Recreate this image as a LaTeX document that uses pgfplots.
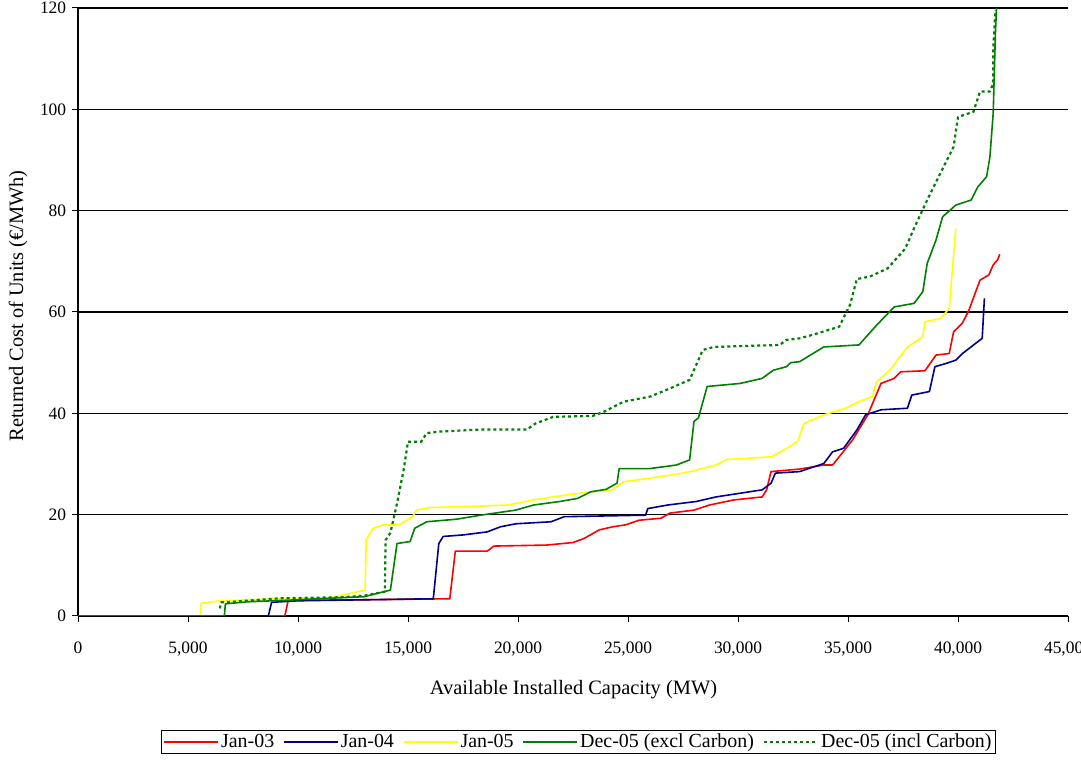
\documentclass[border=0pt]{standalone}
\usepackage{fontspec}
\setmainfont{Liberation Serif}
\usepackage{pgfplots}
\pgfplotsset{compat=1.18}
\definecolor{cred}{RGB}{255,0,0}
\definecolor{cblue}{RGB}{0,0,140}
\definecolor{cyellow}{RGB}{255,255,0}
\definecolor{cgreen}{RGB}{0,128,0}
\begin{document}
\fontsize{17}{20}\selectfont
\begin{tikzpicture}
\path[use as bounding box] (0bp,0bp) rectangle (1081bp,761bp);
\begin{axis}[
  at={(78bp,145bp)}, anchor=south west,
  scale only axis, width=990bp, height=608bp,
  xmin=0, xmax=45000, ymin=0, ymax=120,
  xtick={0,5000,...,45000}, ytick={0,20,...,120},
  scaled x ticks=false,
  /pgf/number format/.cd, 1000 sep={,}, assume math mode=true, /pgfplots/.cd,
  axis x line=bottom, axis y line=left,
  axis line style={-, black, line width=1.2bp},
  tick align=outside, major tick length=6bp,
  tick style={black, line width=1bp},
  ymajorgrids, grid style={black, line width=1.2bp},
  ticklabel style={font=\fontsize{17.5}{20}\selectfont},
  xticklabel style={yshift=-14bp},
  xlabel={Available Installed Capacity (MW)},
  ylabel={Returned Cost of Units (€/MWh)},
  xlabel style={at={(axis description cs:0.5005,-0.1217)}, anchor=center, font=\fontsize{20.5}{24}\selectfont},
  ylabel style={at={(axis description cs:-0.0606,0.51)}, anchor=center, font=\fontsize{20.5}{24}\selectfont},
  legend columns=5,
  legend style={at={(axis description cs:0.5056,-0.207)}, anchor=center, draw=black, line width=0.8bp,
    font=\fontsize{20}{23}\selectfont, inner xsep=2bp, inner ysep=1bp,
    /tikz/every even column/.append style={column sep=7bp},
    /tikz/every odd column/.append style={column sep=0bp}},
  legend image code/.code={\draw[#1] (0bp,0bp) -- (54bp,0bp);},
  every axis plot/.append style={line width=1.6bp, line join=round},
]
\addplot[cred] coordinates {
(0,0) (9400,0) (9550,3.0) (10000,3.1) (13000,3.2) (16900,3.4) (17150,12.8) (18600,12.8)
(18900,13.8) (21300,14.0) (22500,14.5) (23000,15.3) (23700,17.0) (24300,17.6) (24900,18.0)
(25500,18.9) (26500,19.3) (26900,20.3) (28000,20.9) (28700,21.9) (29800,22.9) (31100,23.5)
(31300,24.9) (31500,28.5) (32800,29.0) (33900,29.8) (34300,29.8) (35200,34.7) (35900,39.7)
(36500,45.9) (37100,46.9) (37400,48.2) (38500,48.4) (39000,51.5) (39600,51.8) (39800,56.1)
(40200,57.8) (40500,60.4) (41000,66.3) (41400,67.3) (41600,69.3) (41800,70.3) (41900,71.4)};
\addlegendentry{Jan-03}
\addplot[cblue] coordinates {
(0,0) (8650,0) (8800,2.7) (10000,3.0) (13000,3.2) (16150,3.4) (16400,14.3) (16600,15.7)
(17500,16.0) (18600,16.6) (19200,17.6) (19900,18.2) (21500,18.6) (22100,19.6) (25800,19.9)
(25900,21.2) (26800,21.9) (28100,22.6) (29000,23.5) (30200,24.3) (31100,24.9) (31500,26.2)
(31700,28.2) (32800,28.5) (33900,30.1) (34300,32.4) (34800,33.1) (35400,36.7) (35800,39.7)
(36500,40.7) (37700,41.0) (37900,43.6) (38700,44.3) (38950,49.2) (39500,49.9) (39900,50.5)
(40200,51.8) (41100,54.8) (41200,62.7)};
\addlegendentry{Jan-04}
\addplot[cyellow] coordinates {
(0,0) (5550,0) (5600,2.5) (6450,3.0) (9000,3.4) (11450,3.6) (13050,5.1) (13100,15.0)
(13400,17.3) (13900,18.0) (14600,18.0) (15200,19.6) (15400,20.9) (16000,21.4) (18300,21.7)
(19500,21.9) (20700,22.9) (22200,23.9) (23300,24.5) (24300,24.9) (24800,26.5) (26000,27.2)
(27500,28.2) (28100,28.8) (29000,29.8) (29500,30.9) (31500,31.4) (32100,32.8) (32700,34.4)
(32800,35.5) (33000,38.0) (33900,39.7) (34900,41.0) (35500,42.3) (36100,43.3) (36300,46.2)
(36900,48.5) (37700,53.1) (38400,55.1) (38500,58.1) (39200,58.7) (39600,60.7) (39900,76.5)};
\addlegendentry{Jan-05}
\addplot[cgreen] coordinates {
(0,0) (6650,0) (6700,2.4) (7700,2.8) (10000,3.2) (11900,3.6) (13000,3.8) (13900,4.8)
(14200,5.1) (14500,14.3) (15100,14.7) (15300,17.3) (15850,18.6) (17200,19.1) (18300,19.9)
(19900,20.9) (20700,21.9) (21900,22.6) (22700,23.2) (23300,24.5) (24000,25.0) (24500,26.2)
(24600,29.1) (26000,29.1) (27200,29.8) (27800,30.8) (28000,38.4) (28200,39.1) (28600,45.3)
(30100,45.9) (31100,46.9) (31600,48.5) (32200,49.2) (32400,50.0) (32800,50.2) (33900,53.1)
(35500,53.5) (36300,57.4) (37100,61.0) (38000,61.7) (38400,64.0) (38600,69.6) (39000,74.2)
(39300,78.8) (39900,81.1) (40600,82.1) (40900,84.7) (41300,86.7) (41450,90.6) (41600,99.2)
(41700,115) (41750,120)};
\addlegendentry{Dec-05 (excl Carbon)}
\addplot[cgreen, line width=2.2bp, dash pattern=on 3bp off 3bp] coordinates {
(6450,1.5) (6500,2.7) (7000,2.8) (9200,3.5) (12000,3.7) (13000,4.0) (13950,4.8) (13980,15.0)
(14200,16.4) (14500,22.2) (14800,28.8) (15000,34.4) (15600,34.4) (15850,36.1) (16450,36.4)
(18300,36.8) (20400,36.8) (20800,38.0) (21600,39.3) (23400,39.5) (23900,40.3) (24800,42.3)
(26000,43.3) (26900,44.9) (27800,46.6) (28400,52.5) (28900,53.1) (31900,53.5) (32200,54.5)
(32800,54.8) (33400,55.5) (34600,57.1) (35100,61.5) (35400,66.5) (36000,67.0) (36800,68.6)
(37600,72.5) (38000,76.5) (38600,82.1) (39200,87.4) (39800,92.6) (40000,98.5) (40700,99.5)
(41000,103.5) (41450,103.5) (41600,105.1) (41600,111.7) (41700,119.6)};
\addlegendentry{Dec-05 (incl Carbon)}
\end{axis}
\end{tikzpicture}
\end{document}
